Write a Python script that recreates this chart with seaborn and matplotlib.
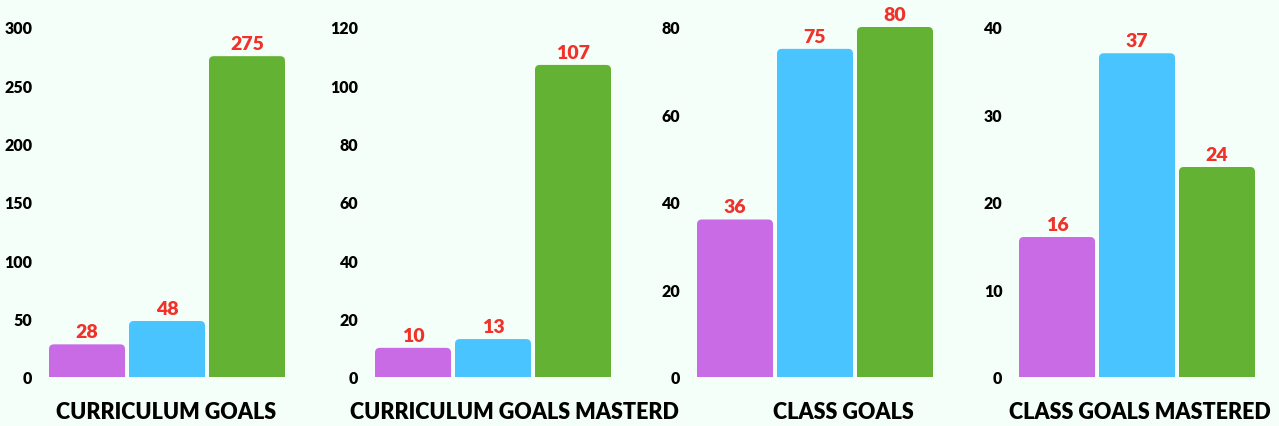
import numpy as np
import pandas as pd
import matplotlib
matplotlib.use("Agg")
import matplotlib.pyplot as plt
from matplotlib.patches import FancyBboxPatch
import seaborn as sns

# chart data
panel_titles = ["CURRICULUM GOALS", "CURRICULUM GOALS MASTERD", "CLASS GOALS", "CLASS GOALS MASTERED"]
groups = ["Group 1", "Group 2", "Group 3"]
curriculum_goals = [28, 48, 275]
curriculum_mastered = [10, 13, 107]
class_goals = [36, 75, 80]
class_mastered = [16, 37, 24]
y_ticks = [
    [0, 50, 100, 150, 200, 250, 300],
    [0, 20, 40, 60, 80, 100, 120],
    [0, 20, 40, 60, 80],
    [0, 10, 20, 30, 40],
]

bar_colors = ["#c96be5", "#4ac4ff", "#64b233"]
bg = "#f5fff9"
label_red = "#f0322a"

sns.set_theme(style="white")
plt.rcParams["font.family"] = ["Lato", "DejaVu Sans"]

W, H = 1279, 427
fig = plt.figure(figsize=(W / 100, H / 100), dpi=100)
fig.patch.set_facecolor(bg)

all_values = [curriculum_goals, curriculum_mastered, class_goals, class_mastered]
ax_left_px = [49, 375, 697, 1019]
title_center_px = [166, 514, 843, 1140]
ax_w_px, ax_bottom_px, ax_h_px = 236, 49, 350

for i, values in enumerate(all_values):
    ax = fig.add_axes([ax_left_px[i] / W, ax_bottom_px / H, ax_w_px / W, ax_h_px / H])
    ax.set_facecolor(bg)
    df = pd.DataFrame({"group": groups, "value": values})
    sns.barplot(data=df, x="group", y="value", hue="group", palette=bar_colors,
                width=0.95, legend=False, ax=ax, saturation=1)

    ymax = y_ticks[i][-1]
    ax.set_xlim(-0.475, 2.475)
    ax.set_ylim(0, ymax)

    # swap plain bars for ones with rounded tops
    aspect = (ymax / ax_h_px) / (1 / 80)
    for p in list(ax.patches):
        x0, w, h = p.get_x(), p.get_width(), p.get_height()
        fc = p.get_facecolor()
        p.remove()
        ext = ymax * 0.05
        rb = FancyBboxPatch((x0, -ext), w, h + ext,
                            boxstyle="round,pad=0,rounding_size=0.06",
                            mutation_aspect=aspect, facecolor=fc, edgecolor="none")
        ax.add_patch(rb)
        ax.text(x0 + w / 2, h + ymax * 0.012, f"{h:g}", ha="center", va="bottom",
                color=label_red, fontsize=14, fontweight="heavy")

    ax.set_yticks(y_ticks[i])
    ax.tick_params(axis="y", length=0, pad=12, labelsize=11.5)
    for t in ax.get_yticklabels():
        t.set_fontweight("heavy")
        t.set_color("black")
    ax.set_xticks([])
    ax.set_xlabel("")
    ax.set_ylabel("")
    sns.despine(ax=ax, left=True, bottom=True)

    fig.text(title_center_px[i] / W, 1 - 413 / H, panel_titles[i], ha="center", va="center",
             fontsize=15.5, fontweight="heavy", color="black")

fig.savefig("out.png", dpi=100, facecolor=bg)
